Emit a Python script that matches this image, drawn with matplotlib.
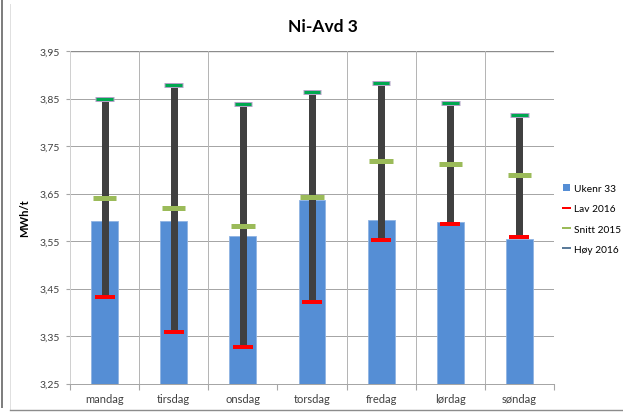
import matplotlib
matplotlib.use("Agg")
import matplotlib.pyplot as plt
from matplotlib.lines import Line2D
from matplotlib.patches import Patch

plt.rcParams['font.family'] = ['Lato', 'DejaVu Sans']

# Weekday categories and weekly consumption (MWh/t)
days = ["mandag", "tirsdag", "onsdag", "torsdag", "fredag", "lørdag", "søndag"]
ukenr_33 = [3.592, 3.592, 3.561, 3.636, 3.594, 3.589, 3.554]
lav_2016 = [3.432, 3.358, 3.326, 3.421, 3.552, 3.585, 3.558]
snitt_2015 = [3.641, 3.619, 3.582, 3.643, 3.718, 3.713, 3.688]
hoy_2016 = [3.850, 3.879, 3.839, 3.864, 3.883, 3.841, 3.816]

y_ticks = [3.25, 3.35, 3.45, 3.55, 3.65, 3.75, 3.85, 3.95]
y_tick_labels = ["3,25", "3,35", "3,45", "3,55", "3,65", "3,75", "3,85", "3,95"]

PX = 0.72  # points per pixel at dpi 100

fig = plt.figure(figsize=(6.23, 4.14), dpi=100)
ax = fig.add_axes([70 / 623, 1 - 384.5 / 414, 484 / 623, (384.5 - 52) / 414])

x = list(range(len(days)))

# Horizontal gridlines
for yv in y_ticks[1:-1]:
    ax.axhline(yv, color="#a6a6a6", lw=1 * PX, zorder=0)
ax.axhline(y_ticks[-1], color="#8c8c8c", lw=1.4 * PX, zorder=0)

# Category separators
for b in [0.5, 1.5, 3.5, 4.5, 5.5]:
    ax.axvline(b, color="#b5b5b5", lw=1 * PX, zorder=0)
ax.axvline(6.5, color="#ececec", lw=1 * PX, zorder=0)

bar_w = 0.39
ax.bar(x, [v - y_ticks[0] for v in ukenr_33], bottom=y_ticks[0], width=bar_w,
       color="#558ed5", edgecolor="#8fb3e3", linewidth=0.6, zorder=2)

# Range from lowest to highest 2016
ax.vlines(x, lav_2016, hoy_2016, color="#404040", lw=7 * PX, zorder=3)

# Markers for low / average / high
ax.hlines(lav_2016, [i - 0.145 for i in x], [i + 0.145 for i in x],
          color="#ff0000", lw=4 * PX, zorder=4)
ax.hlines(snitt_2015, [i - 0.17 for i in x], [i + 0.17 for i in x],
          color="#9bbb59", lw=5 * PX, zorder=4)
ax.hlines(hoy_2016, [i - 0.135 for i in x], [i + 0.135 for i in x],
          color="#b3a2c7", lw=5 * PX, zorder=4)
ax.hlines(hoy_2016, [i - 0.12 for i in x], [i + 0.12 for i in x],
          color="#00a850", lw=3 * PX, zorder=5)

ax.set_xlim(-0.5, 6.5)
ax.set_ylim(3.25, 3.95)

ax.set_yticks(y_ticks)
ax.set_yticklabels(y_tick_labels, fontsize=7.5, color="#404040")
ax.set_xticks(x)
ax.set_xticklabels(days, fontsize=8, color="#404040")
ax.set_xticks([i - 0.5 for i in range(len(days) + 1)], minor=True)
ax.tick_params(axis="x", which="major", length=0, pad=7)
ax.tick_params(axis="x", which="minor", length=4, color="#a6a6a6", width=0.8)
ax.tick_params(axis="y", length=3, color="#a6a6a6", width=0.8, pad=4)

for s in ["top", "right"]:
    ax.spines[s].set_visible(False)
ax.spines["left"].set_color("#d0d0d0")
ax.spines["bottom"].set_color("#a6a6a6")
ax.spines["left"].set_linewidth(1 * PX)
ax.spines["bottom"].set_linewidth(1 * PX)

ax.set_ylabel("MWh/t", fontsize=8, fontweight="bold", labelpad=7)

fig.text(323 / 623, 1 - 27 / 414, "Ni-Avd 3", ha="center", va="center",
         fontsize=12.5, fontweight="bold")

handles = [
    Patch(facecolor="#558ed5", edgecolor="none"),
    Line2D([], [], color="#ff0000", lw=2 * PX),
    Line2D([], [], color="#9bbb59", lw=2 * PX),
    Line2D([], [], color="#5b7b9a", lw=2 * PX),
]
labels = ["Ukenr 33", "Lav 2016", "Snitt 2015", "Høy 2016"]
fig.legend(handles, labels, loc="upper left",
           bbox_to_anchor=(563 / 623, 1 - 185 / 414), frameon=False,
           prop={"family": ["Liberation Sans Narrow", "Lato", "DejaVu Sans"], "size": 7.3},
           handlelength=0.7, handletextpad=0.35,
           labelspacing=1.1, borderpad=0, borderaxespad=0)

# Chart frame
fig.add_artist(Line2D([2 / 623, 2 / 623], [1 - 408 / 414, 1], transform=fig.transFigure,
                      color="#7f7f7f", lw=2 * PX))
fig.add_artist(Line2D([10 / 623, 10 / 623], [1 - 411 / 414, 1 - 5 / 414],
                      transform=fig.transFigure, color="#e0e0e0", lw=1 * PX))
fig.add_artist(Line2D([10 / 623, 1], [1 - 411 / 414, 1 - 411 / 414],
                      transform=fig.transFigure, color="#8c8c8c", lw=1.4 * PX))

fig.savefig("out.png", dpi=100)
